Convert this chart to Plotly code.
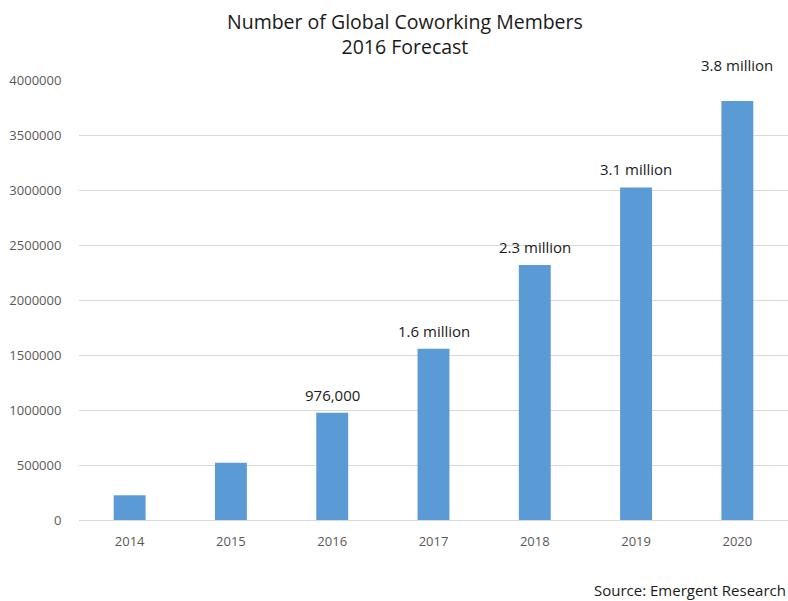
import plotly.graph_objects as go

years = ["2014", "2015", "2016", "2017", "2018", "2019", "2020"]
members = [225000, 520000, 976000, 1557000, 2318000, 3023000, 3810000]
labels = ["", "", "976,000", "1.6 million", "2.3 million", "3.1 million", "3.8 million"]
y_ticks = [0, 500000, 1000000, 1500000, 2000000, 2500000, 3000000, 3500000, 4000000]

FONT = "Open Sans"

fig = go.Figure()
fig.add_trace(go.Bar(x=years, y=members, marker_color="#5b9bd5", marker_line_width=0,
                     hoverinfo="x+y"))

for i, (v, t) in enumerate(zip(members, labels)):
    if t:
        fig.add_annotation(x=i, y=v, text=t, showarrow=False, yanchor="bottom",
                           yshift=24 if i == len(years) - 1 else 6,
                           font=dict(family=FONT, size=15, color="#1a1a1a"))

fig.add_annotation(x=0.46, y=1, xref="paper", yref="paper", yanchor="bottom", yshift=18,
                   text="Number of Global Coworking Members<br>2016 Forecast", showarrow=False,
                   font=dict(family=FONT, size=19.5, color="#1a1a1a"))
fig.add_annotation(x=1.0, y=0, xref="paper", yref="paper", xanchor="right", yanchor="top",
                   yshift=-58, text="Source: Emergent Research", showarrow=False,
                   font=dict(family=FONT, size=15, color="#1a1a1a"))

fig.update_layout(
    width=788, height=601,
    margin=dict(l=79, r=0, t=80, b=81),
    paper_bgcolor="white", plot_bgcolor="white",
    bargap=0.685, showlegend=False,
    font=dict(family=FONT, size=13, color="#595959"),
)
fig.update_xaxes(type="category", range=[-0.5, len(years) - 0.5], showgrid=False,
                 showline=True, linecolor="#d9d9d9",
                 ticks="outside", ticklen=9, tickcolor="rgba(0,0,0,0)",
                 tickfont=dict(size=13, color="#595959"))
fig.update_yaxes(range=[0, 4000000], tickvals=y_ticks, ticktext=[str(v) for v in y_ticks],
                 showgrid=True, gridcolor="#d9d9d9", zeroline=False, showline=False,
                 ticks="outside", ticklen=14, tickcolor="rgba(0,0,0,0)",
                 tickfont=dict(size=13, color="#595959"))

fig.write_html("out.html", config={"displayModeBar": False},
               post_script="document.body.style.margin='0';document.body.style.overflow='hidden';")
